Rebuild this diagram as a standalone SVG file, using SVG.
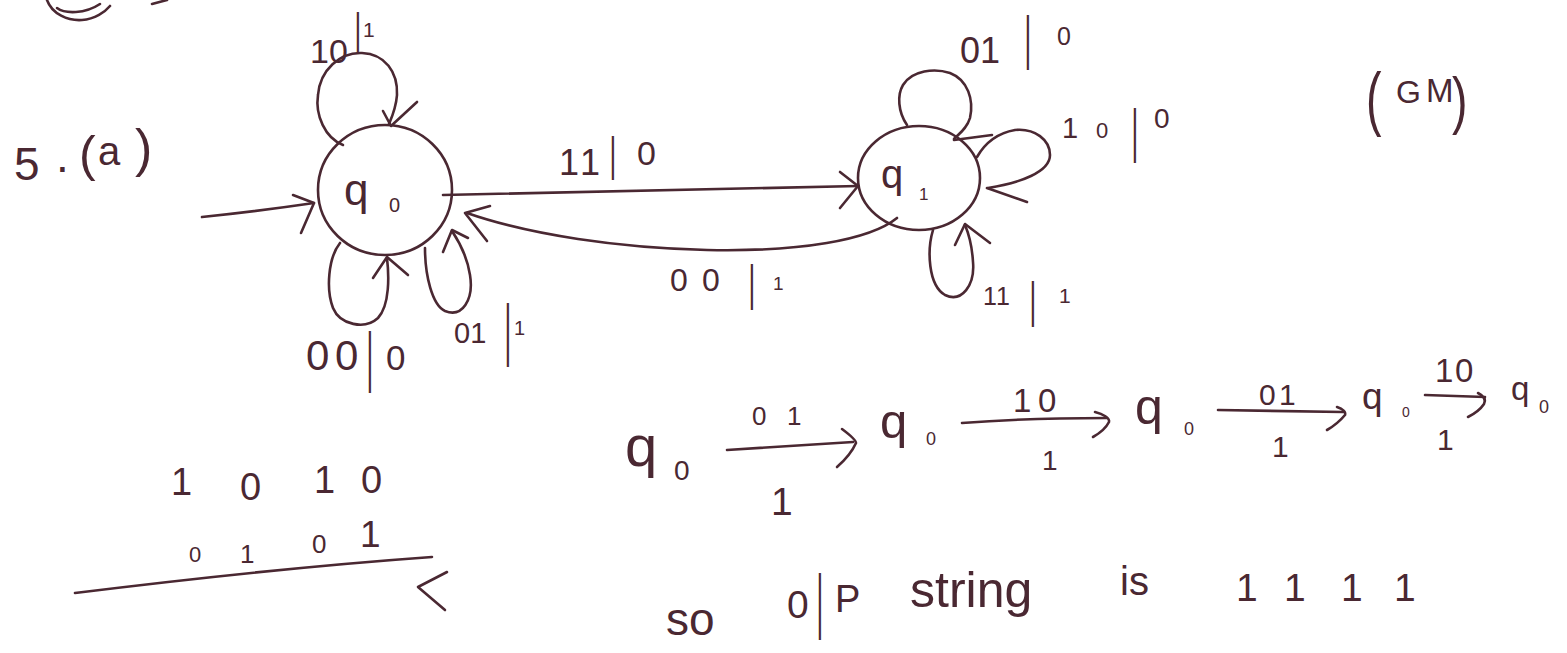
<svg xmlns="http://www.w3.org/2000/svg" width="1567" height="653" viewBox="0 0 1567 653">
  <style>
    .ink { fill: none; stroke: #4a2832; stroke-width: 2.6; stroke-linecap: round; stroke-linejoin: round; }
    .t { font-family: "Liberation Sans", Arial, sans-serif; fill: #4a2832; }
    .bar { font-size: 26px; }
  </style>
  <rect width="1567" height="653" fill="#ffffff"/>

  <!-- stray pen marks, top left -->
  <g id="marks">
    <path class="ink" d="M47,0 C52,14 68,21 82,20 C95,19 105,12 110,6"/>
    <path class="ink" d="M57,8 C65,14 85,14 100,4"/>
    <path class="ink" d="M152,4 L167,0"/>
  </g>

  <!-- question number and tag -->
  <g id="heading">
    <text class="t"><tspan x="14" y="180" font-size="46">5</tspan><tspan x="56" y="172" font-size="46">.</tspan><tspan x="79" y="171" font-size="50">(</tspan><tspan x="98" y="165" font-size="40">a</tspan><tspan x="135" y="166" font-size="52">)</tspan></text>
  </g>
  <g id="tag">
    <text class="t" transform="translate(1366,122) scale(1.5,2.3)" font-size="31">(</text>
    <text class="t"><tspan x="1396" y="103" font-size="32">G</tspan><tspan x="1426" y="102" font-size="33">M</tspan></text>
    <text class="t" transform="translate(1452,122) scale(1.5,2.0)" font-size="31">)</text>
  </g>

  <!-- states -->
  <g id="q0">
    <ellipse class="ink" cx="385" cy="190" rx="67" ry="65"/>
    <text class="t"><tspan x="344" y="205" font-size="44">q</tspan><tspan x="389" y="212" font-size="20">0</tspan></text>
  </g>
  <g id="q1">
    <ellipse class="ink" cx="919" cy="178" rx="61" ry="52"/>
    <text class="t"><tspan x="881" y="188" font-size="40">q</tspan><tspan x="919" y="200" font-size="17">1</tspan></text>
  </g>

  <!-- transitions -->
  <g id="connectors">
    <!-- start arrow -->
    <path class="ink" d="M202,217 C240,213 280,208 314,203"/>
    <path class="ink" d="M293,195 L314,203 L301,233"/>
    <!-- q0 self loop 10|1 -->
    <path class="ink" d="M343,145 C325,138 315,115 318,95 C320,70 340,52 362,53 C385,54 398,72 397,95 C396,108 392,117 389,124"/>
    <path class="ink" d="M383,111 L391,126 L417,102"/>
    <!-- q0 self loop 00|0 -->
    <path class="ink" d="M340,243 C328,258 326,290 333,308 C340,325 365,330 378,318 C390,305 389,275 387,258"/>
    <path class="ink" d="M373,278 L387,257 L408,275"/>
    <!-- q0 self loop 01|1 -->
    <path class="ink" d="M425,248 C425,275 432,305 445,311 C462,318 474,300 470,275 C467,255 458,240 452,231"/>
    <path class="ink" d="M443,252 L452,230 L468,238"/>
    <!-- q0 to q1 -->
    <path class="ink" d="M443,195 C600,191 750,188 858,186"/>
    <path class="ink" d="M840,172 L858,186 L840,208"/>
    <!-- q1 to q0 -->
    <path class="ink" d="M897,218 C870,240 800,252 707,250 C620,248 530,235 467,213"/>
    <path class="ink" d="M490,206 L465,213 L487,241"/>
    <!-- q1 self loop 01|0 -->
    <path class="ink" d="M907,125 C898,112 897,95 903,85 C912,70 935,68 950,73 C968,80 974,100 970,118 C967,128 960,133 954,139"/>
    <path class="ink" d="M992,135 L954,140"/>
    <!-- q1 self loop 10|0 -->
    <path class="ink" d="M977,157 C985,143 998,133 1015,130 C1035,128 1050,140 1050,155 C1050,172 1020,183 988,188"/>
    <path class="ink" d="M1027,202 L987,188"/>
    <!-- q1 self loop 11|1 -->
    <path class="ink" d="M933,230 C927,250 928,285 945,295 C962,303 975,285 973,262 C972,245 968,232 965,225"/>
    <path class="ink" d="M955,245 L965,224 L990,243"/>
  </g>

  <!-- transition labels: input | output, the bar stretched tall and thin -->
  <g id="labels">
    <g id="lbl-q0-10">
      <text class="t" x="310" y="63" font-size="34">10</text>
      <text class="t bar" transform="translate(354.6,43.8) scale(1,1.68)">|</text>
      <text class="t" x="363" y="37" font-size="21">1</text>
    </g>
    <g id="lbl-q0q1">
      <text class="t" font-size="36"><tspan x="559 580" y="175">11</tspan></text>
      <text class="t bar" transform="translate(609.6,170.4) scale(1,1.76)">|</text>
      <text class="t" x="637" y="165" font-size="34">0</text>
    </g>
    <g id="lbl-q1q0">
      <text class="t" font-size="32"><tspan x="670 702" y="291">00</tspan></text>
      <text class="t bar" transform="translate(748.6,299.5) scale(1,1.92)">|</text>
      <text class="t" x="773" y="290" font-size="19">1</text>
    </g>
    <g id="lbl-q0-00">
      <text class="t" font-size="42"><tspan x="306 335" y="370">00</tspan></text>
      <text class="t bar" transform="translate(366.6,378.9) scale(1,2.58)">|</text>
      <text class="t" x="386" y="370" font-size="35">0</text>
    </g>
    <g id="lbl-q0-01">
      <text class="t" x="454" y="343" font-size="29">01</text>
      <text class="t bar" transform="translate(504.6,352.7) scale(1,2.62)">|</text>
      <text class="t" x="514" y="335" font-size="20">1</text>
    </g>
    <g id="lbl-q1-01">
      <text class="t" x="960" y="63" font-size="36">01</text>
      <text class="t bar" transform="translate(1024.6,57.7) scale(1,2.25)">|</text>
      <text class="t" x="1057" y="45" font-size="25">0</text>
    </g>
    <g id="lbl-q1-10">
      <text class="t"><tspan x="1062" y="138" font-size="29">1</tspan><tspan x="1096" y="138" font-size="22">0</tspan></text>
      <text class="t bar" transform="translate(1131.6,150.7) scale(1,2.25)">|</text>
      <text class="t" x="1154" y="128" font-size="28">0</text>
    </g>
    <g id="lbl-q1-11">
      <text class="t" font-size="25"><tspan x="983 996" y="305">11</tspan></text>
      <text class="t bar" transform="translate(1029.6,316.5) scale(1,1.92)">|</text>
      <text class="t" x="1059" y="303" font-size="21">1</text>
    </g>
  </g>

  <!-- run of the machine on the input -->
  <g id="run">
    <text class="t"><tspan x="625" y="466" font-size="58">q</tspan><tspan x="674" y="480" font-size="28">0</tspan></text>
    <path class="ink" d="M727,450 L853,442"/>
    <path class="ink" d="M842,429 C850,435 856,440 856,443 C852,452 845,460 837,467"/>
    <text class="t" font-size="26"><tspan x="752 787" y="425">01</tspan></text>
    <text class="t" font-size="39" x="771" y="515">1</text>

    <text class="t"><tspan x="880" y="438" font-size="49">q</tspan><tspan x="926" y="445" font-size="18">0</tspan></text>
    <path class="ink" d="M962,423 C1000,420 1060,418 1107,418"/>
    <path class="ink" d="M1095,412 C1103,414 1110,418 1109,422 C1106,428 1100,433 1093,437"/>
    <text class="t" font-size="33"><tspan x="1013 1038" y="412">10</tspan></text>
    <text class="t" font-size="28" x="1042" y="470">1</text>

    <text class="t"><tspan x="1135" y="424" font-size="50">q</tspan><tspan x="1184" y="435" font-size="18">0</tspan></text>
    <path class="ink" d="M1218,410 L1343,412"/>
    <path class="ink" d="M1337,407 C1343,409 1346,412 1345,415 C1340,421 1334,426 1327,430"/>
    <text class="t" font-size="30"><tspan x="1259 1279" y="405">01</tspan></text>
    <text class="t" font-size="30" x="1272" y="457">1</text>

    <text class="t"><tspan x="1362" y="409" font-size="37">q</tspan><tspan x="1402" y="417" font-size="14">0</tspan></text>
    <path class="ink" d="M1425,395 L1485,397"/>
    <path class="ink" d="M1478,393 C1484,396 1486,400 1484,404 C1480,410 1474,414 1468,417"/>
    <text class="t" font-size="33"><tspan x="1435 1455" y="382">10</tspan></text>
    <text class="t" font-size="30" x="1437" y="450">1</text>

    <text class="t"><tspan x="1511" y="400" font-size="33">q</tspan><tspan x="1539" y="413" font-size="18">0</tspan></text>
  </g>

  <!-- reversed input -->
  <g id="input">
    <text class="t" font-size="38"><tspan x="171 240 314 361" y="495 500 493 493">1010</tspan></text>
    <text class="t"><tspan x="189" y="562" font-size="22">0</tspan><tspan x="240" y="563" font-size="26">1</tspan><tspan x="312" y="553" font-size="26">0</tspan><tspan x="360" y="547" font-size="37">1</tspan></text>
    <path class="ink" d="M75,593 C180,580 320,565 432,557"/>
    <path class="ink" d="M447,572 L418,587 L445,610"/>
  </g>

  <!-- conclusion -->
  <g id="result">
    <text class="t" x="666" y="635" font-size="46">so</text>
    <text class="t" x="787" y="618" font-size="39">0</text>
    <text class="t bar" transform="translate(816.6,624.8) scale(1,2.78)">|</text>
    <text class="t" x="835" y="612" font-size="38">P</text>
    <text class="t" x="910" y="607" font-size="50">string</text>
    <text class="t" x="1120" y="595" font-size="40">is</text>
    <text class="t" font-size="39"><tspan x="1236 1284 1341 1394" y="601">1111</tspan></text>
  </g>
</svg>
